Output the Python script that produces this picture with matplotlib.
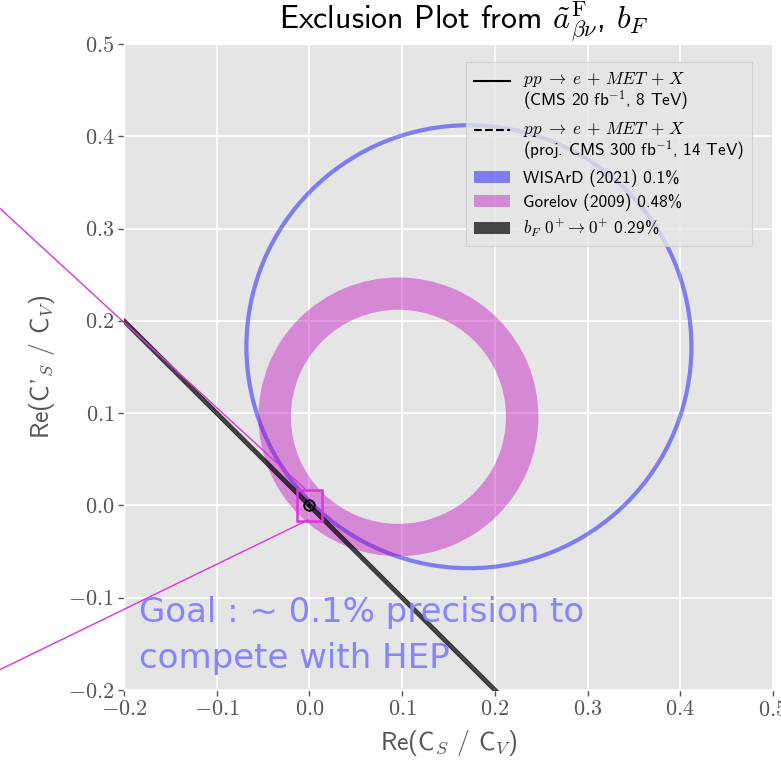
import matplotlib
matplotlib.use("Agg")
import matplotlib.pyplot as plt
from matplotlib.patches import Annulus, Rectangle, Patch
from matplotlib.lines import Line2D
from matplotlib.legend_handler import HandlerLine2D
from matplotlib.ticker import FixedLocator, FuncFormatter
import numpy as np

# --- constraint values (C_S, C_S' plane) ---
wisard_center = (0.172, 0.172)
wisard_radius = 0.240
wisard_width = 0.0045

gorelov_center = (0.096, 0.096)
gorelov_r_inner = 0.116
gorelov_r_outer = 0.151

bF_slope = -1.0
bF_halfwidth = 0.003

sm_point = (0.0, 0.0)

zoom_halfsize = (0.0135, 0.017)
# connector lines towards the magnified view (start, end) in data units
connector_upper = [(-0.334, 0.322), (-0.0047, 0.0179)]
connector_lower = [(-0.334, -0.178), (-0.0015, -0.0157)]

xticks = [-0.2, -0.1, 0.0, 0.1, 0.2, 0.3, 0.4, 0.5]
yticks = [-0.2, -0.1, 0.0, 0.1, 0.2, 0.3, 0.4, 0.5]

proc = "$pp \\;\\to\\; e \\,+\\, MET \\,+\\, X$"
legend_labels = [
    proc + "\n(CMS 20 fb$^{-1}$, 8 TeV)",
    proc + "\n(proj. CMS 300 fb$^{-1}$, 14 TeV)",
    "WISArD (2021) 0.1%",
    "Gorelov (2009) 0.48%",
    "$b_F$ $0^{+} \\to 0^{+}$ 0.29%",
]

goal_text = "Goal : ~ 0.1% precision to\ncompete with HEP"

# --- styling ---
plt.rcParams["mathtext.fontset"] = "cm"
plt.rcParams["font.family"] = ["cmss10", "DejaVu Sans"]
plt.rcParams["axes.unicode_minus"] = True

BG = "#E5E5E5"
GRAY = "#555555"
BLUE = (0.0, 0.0, 1.0, 0.45)
PINK = (0.75, 0.0, 0.75, 0.40)
DARK = (0.0, 0.0, 0.0, 0.70)
BOX = "#DD33DD"


class FirstLineHandler(HandlerLine2D):
    """Line handle aligned with the first line of a two-line label."""

    def create_artists(self, legend, orig_handle, xdescent, ydescent,
                       width, height, fontsize, trans):
        return super().create_artists(legend, orig_handle, xdescent,
                                      ydescent - 1.25 * fontsize, width, height,
                                      fontsize, trans)


fig = plt.figure(figsize=(7.81, 7.64), dpi=100)
ax = fig.add_axes([124 / 781, 1 - 690 / 764, 649 / 781, 646 / 764])
ax.set_facecolor(BG)
for s in ax.spines.values():
    s.set_color("white")
    s.set_linewidth(1.0)
ax.grid(True, color="white", linewidth=1.3)
ax.set_axisbelow(True)

ax.set_xlim(-0.2, 0.5)
ax.set_ylim(-0.2, 0.5)

fmt = FuncFormatter(lambda v, p: f"${v:.1f}$")
ax.xaxis.set_major_locator(FixedLocator(xticks))
ax.yaxis.set_major_locator(FixedLocator(yticks))
ax.xaxis.set_major_formatter(fmt)
ax.yaxis.set_major_formatter(fmt)
ax.tick_params(axis="both", colors=GRAY, labelsize=16, length=4, width=1,
               direction="out", pad=3)

# WISArD ring
ax.add_patch(Annulus(wisard_center, wisard_radius + wisard_width / 2,
                     wisard_width, facecolor=BLUE, edgecolor="none", zorder=2))
# Gorelov ring
ax.add_patch(Annulus(gorelov_center, gorelov_r_outer,
                     gorelov_r_outer - gorelov_r_inner,
                     facecolor=PINK, edgecolor="none", zorder=2))
# b_F band
xs = np.array([-0.2, 0.5])
ax.fill_between(xs, bF_slope * xs - bF_halfwidth, bF_slope * xs + bF_halfwidth,
                color=DARK, linewidth=0.6, zorder=3)

# Standard Model point
ax.plot(*sm_point, marker="o", ms=7.5, mfc="none", mec="black", mew=1.4, zorder=5)
ax.plot(*sm_point, marker="o", ms=2.2, color="black", zorder=5)

# zoom region indicator
ax.add_patch(Rectangle((sm_point[0] - zoom_halfsize[0], sm_point[1] - zoom_halfsize[1]),
                       2 * zoom_halfsize[0], 2 * zoom_halfsize[1],
                       fill=False, edgecolor=BOX, linewidth=1.8, zorder=6))
for seg in (connector_upper, connector_lower):
    (x0, y0), (x1, y1) = seg
    ax.plot([x0, x1], [y0, y1], color=BOX, linewidth=1.0, clip_on=False, zorder=6)

# legend
line_solid = Line2D([], [], color="black", linewidth=1.5)
line_dash = Line2D([], [], color="black", linewidth=1.5, linestyle="--")
handles = [
    line_solid,
    line_dash,
    Patch(facecolor=BLUE, edgecolor="none"),
    Patch(facecolor=PINK, edgecolor="none"),
    Patch(facecolor=DARK, edgecolor="none"),
]
leg = ax.legend(handles, legend_labels, loc="upper right", fontsize=12.4,
                frameon=True, fancybox=False, facecolor=BG, edgecolor="0.8",
                framealpha=0.8, handlelength=2.1, borderpad=0.45,
                labelspacing=0.38, handletextpad=0.8, borderaxespad=0,
                bbox_to_anchor=(0.968, 0.972),
                handler_map={line_solid: FirstLineHandler(),
                             line_dash: FirstLineHandler()})
leg.get_frame().set_linewidth(0.8)
for t in leg.get_texts():
    t.set_linespacing(1.0)

# annotation text
ax.text(-0.184, -0.176, goal_text, color="#8585FF", fontsize=24.5,
        family=["DejaVu Sans"], va="baseline", ha="left",
        linespacing=1.5, zorder=7)

ax.set_title("Exclusion Plot from $\\tilde{a}^{\\rm F}_{\\beta\\nu}$, $b_F$",
             fontsize=23, color="black", pad=10, x=0.524)
ax.set_xlabel("Re(C$_S$ / C$_V$)", fontsize=18.5, color=GRAY, labelpad=6)
ax.set_ylabel("Re(C'$_S$ / C$_V$)", fontsize=18.5, color=GRAY, labelpad=8)

fig.savefig("out.png", dpi=100)
